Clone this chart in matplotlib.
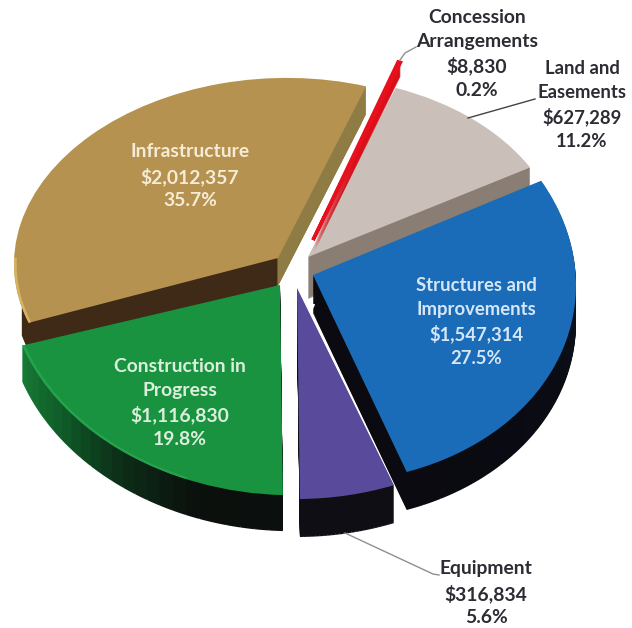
import numpy as np
import matplotlib
matplotlib.use('Agg')
import matplotlib.pyplot as plt
from matplotlib.colors import LinearSegmentedColormap
from matplotlib.patches import Wedge
from matplotlib.transforms import Affine2D

names = ['Infrastructure', 'Construction in\nProgress', 'Equipment',
         'Structures and\nImprovements', 'Land and\nEasements', 'Concession\nArrangements']
amounts = [2012357, 1116830, 316834, 1547314, 627289, 8830]
percents = ['35.7%', '19.8%', '5.6%', '27.5%', '11.2%', '0.2%']
top_colors = ['#b5924f', '#1a9340', '#5a4a9c', '#1a6cb8', '#cbbfba', '#e8101c']

# per slice placement in pixels: centre x, centre y, x radius, y radius, shear, wall depth
placement = {
    'Infrastructure': (278, 258, 264, 180, -6, 28),
    'Construction in\nProgress': (280, 285, 273, 210, 9, 36),
    'Equipment': (297, 288, 272, 211, 0, 38),
    'Structures and\nImprovements': (313, 275, 263, 207, 10, 38),
    'Land and\nEasements': (308, 257, 256, 180, 0, 42),
    'Concession\nArrangements': (313, 240, 255, 189, 0, 14),
}
# wall colour from the first to the last angle of each slice
wall_colors = {
    'Infrastructure': ['#8f7c45', '#3f2917'],
    'Construction in\nProgress': ['#167a34', '#0f5a28', '#0c2c17', '#0b100d', '#0b0f0d'],
    'Equipment': ['#0e0e14', '#0e0e14'],
    'Structures and\nImprovements': ['#0a0a10', '#0a0a12', '#0a0c14', '#0c1420', '#0c1420'],
    'Land and\nEasements': ['#8a7d74', '#8a7d74'],
    'Concession\nArrangements': ['#d90f1a', '#d90f1a'],
}
draw_order = [0, 4, 5, 3, 1, 2]

fig = plt.figure(figsize=(6.32, 6.28), dpi=100)
ax = fig.add_axes([0, 0, 1, 1])
wedges, _ = ax.pie(amounts, startangle=70.5, colors=top_colors, radius=1)
ax.set_aspect('auto')
ax.set_xlim(0, 632)
ax.set_ylim(628, 0)
ax.axis('off')


def slice_transform(name, dy=0):
    cx, cy, rx, ry, shear, _ = placement[name]
    m = np.array([[rx, 0, cx], [shear, -ry, cy + dy], [0, 0, 1]], float)
    return Affine2D(m) + ax.transData


def add_wall(name, radius, start, stop, color, d, z):
    wall = Wedge((0, 0), radius, start, stop, fc=color, ec='none', zorder=z)
    wall.set_transform(slice_transform(name, d))
    ax.add_patch(wall)


for i in draw_order:
    name = names[i]
    w = wedges[i]
    depth = placement[name][5]
    z = 2 + draw_order.index(i)
    cmap = LinearSegmentedColormap.from_list('wall', wall_colors[name])
    edges = np.linspace(w.theta1, w.theta2, 25)
    segs = range(24)
    # side wall: stacks of thin wedges going up to the top surface
    for d in range(depth, 0, -1):
        if name == 'Infrastructure':
            # only the two cut faces show on this slice, not the outer rim
            mid = (w.theta1 + w.theta2) / 2
            add_wall(name, 0.95, w.theta1, mid, cmap(0.0), d, z)
            add_wall(name, 0.95, mid, w.theta2, cmap(1.0), d, z)
            segs = [0, 23]
        for k in segs:
            add_wall(name, 1, edges[k], edges[k + 1], cmap(k / 23), d, z)
    w.set_transform(slice_transform(name))
    w.set_zorder(z + 0.5)
    w.set_edgecolor('none')

# thick red so the thin slice stays visible
wedges[5].set_edgecolor(top_colors[5])
wedges[5].set_linewidth(2.5)

# lighter rim on part of the green and gold slices
for i, rim, start, stop in [(0, '#d8b264', 178, wedges[0].theta2), (1, '#27a24c', wedges[1].theta1, 250)]:
    ring = Wedge((0, 0), 1, start, stop, width=0.01, fc=rim, ec='none', zorder=wedges[i].get_zorder() + 0.1)
    ring.set_transform(slice_transform(names[i]))
    ax.add_patch(ring)

# leader lines
ax.plot([400, 405, 416], [60, 53, 47], color='#8f8f8f', lw=1, zorder=20)
ax.plot([468, 535], [118, 99], color='#444444', lw=1, zorder=20)
ax.plot([345, 433, 439], [533, 574, 575], color='#8f8f8f', lw=1, zorder=20)
# small white mark between the slices
ax.scatter([310], [308], marker='v', s=30, color='white', zorder=20)


def label(i, x, y, color, size=13.9):
    txt = names[i] + '\n$' + format(amounts[i], ',') + '\n' + percents[i]
    ax.text(x, y, txt.replace('$', r'\$'), ha='center', va='center', ma='center', color=color,
            family='Lato', weight='bold', fontsize=size, linespacing=1.46, zorder=30)


label(0, 190, 176, '#f6ecd6')
label(1, 180, 403, '#dcefdc')
label(2, 486, 593, '#2c2c34')
label(3, 476, 322, '#d6e6f6', size=13.3)
label(4, 582, 105, '#2c2c34', size=13.3)
label(5, 477, 54, '#2c2c34')

fig.savefig('out.png', dpi=100)
